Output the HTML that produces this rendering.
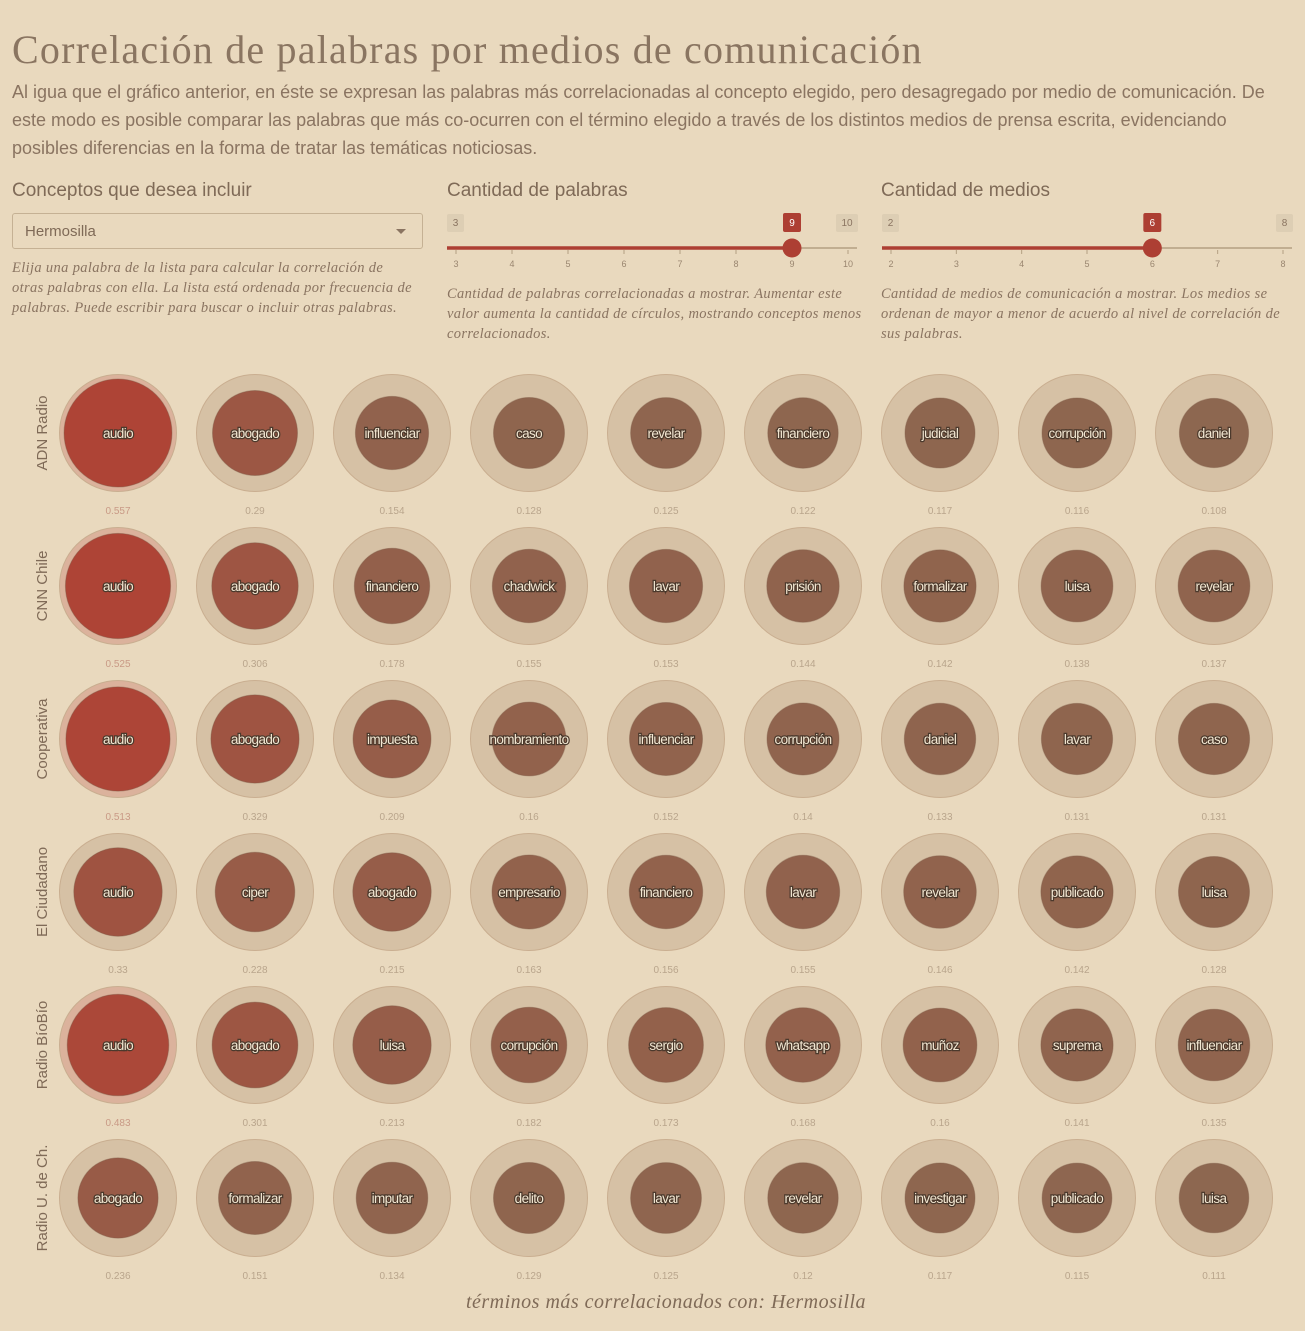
<!DOCTYPE html>
<html><head><meta charset="utf-8"><style>
body{margin:0;width:1305px;height:1331px;background:#e9d9be;overflow:hidden;font-family:"Liberation Sans",sans-serif;color:#8a7461}
h1{position:absolute;left:12px;top:26px;margin:0;font-family:"Liberation Serif",serif;font-weight:normal;font-size:40px;color:#8a7561;letter-spacing:1.2px}
.p{position:absolute;left:12px;top:78px;width:1285px;font-size:18px;line-height:28px;color:#8a7461}
.lab{position:absolute;font-size:19px;color:#7f6a57}
.help{position:absolute;font-family:"Liberation Serif",serif;font-style:italic;font-size:14.5px;line-height:20px;color:#8a7461;letter-spacing:0.35px}
.sel{position:absolute;left:12px;top:213px;width:411px;height:36px;border:1px solid #c5b194;border-radius:3px;box-sizing:border-box;font-size:15px;line-height:35px;padding-left:12px;color:#7f6a57}
.sel:after{content:"";position:absolute;right:16px;top:15px;border:5px solid transparent;border-top:5px solid #8a7461}
</style></head><body>
<h1>Correlación de palabras por medios de comunicación</h1>
<div class="p">Al igua que el gráfico anterior, en éste se expresan las palabras más correlacionadas al concepto elegido, pero desagregado por medio de comunicación. De este modo es posible comparar las palabras que más co-ocurren con el término elegido a través de los distintos medios de prensa escrita, evidenciando posibles diferencias en la forma de tratar las temáticas noticiosas.</div>
<div class="lab" style="left:12px;top:180px">Conceptos que desea incluir</div>
<div class="lab" style="left:447px;top:180px">Cantidad de palabras</div>
<div class="lab" style="left:881px;top:180px">Cantidad de medios</div>
<div class="sel">Hermosilla</div>
<div class="help" style="left:12px;top:258px;width:405px">Elija una palabra de la lista para calcular la correlación de otras palabras con ella. La lista está ordenada por frecuencia de palabras. Puede escribir para buscar o incluir otras palabras.</div>
<div class="help" style="left:447px;top:284px;width:415px">Cantidad de palabras correlacionadas a mostrar. Aumentar este valor aumenta la cantidad de círculos, mostrando conceptos menos correlacionados.</div>
<div class="help" style="left:881px;top:284px;width:405px">Cantidad de medios de comunicación a mostrar. Los medios se ordenan de mayor a menor de acuerdo al nivel de correlación de sus palabras.</div>
<svg id="s" width="1305" height="1331" style="position:absolute;left:0;top:0" font-family="Liberation Sans, sans-serif"></svg>
<script>
var s='';
function slider(l0,l1,t0,t1,min,max,val){
 var w=t1-t0,px=function(v){return t0+(v-min)/(max-min)*w;};
 var vx=px(val);
 s+='<line x1="'+l0+'" y1="248" x2="'+l1+'" y2="248" stroke="#b4a082" stroke-width="1.5"/>';
 s+='<line x1="'+l0+'" y1="248" x2="'+vx+'" y2="248" stroke="#ad3f33" stroke-width="3.5"/>';
 for(var v=min;v<=max;v++){var x=px(v);s+='<line x1="'+x+'" y1="250" x2="'+x+'" y2="254" stroke="#b4a082"/><text x="'+x+'" y="267" font-size="9" fill="#9a8670" text-anchor="middle">'+v+'</text>';}
 s+='<rect x="'+(l0)+'" y="214" width="17" height="18" rx="2" fill="#ddceb4"/><text x="'+(l0+8.5)+'" y="226" font-size="10" fill="#8a7461" text-anchor="middle">'+min+'</text>';
 var mw=max>9?22:17;
 s+='<rect x="'+(l1-mw+1)+'" y="214" width="'+mw+'" height="18" rx="2" fill="#ddceb4"/><text x="'+(l1-mw/2+1)+'" y="226" font-size="10" fill="#8a7461" text-anchor="middle">'+max+'</text>';
 s+='<rect x="'+(vx-9)+'" y="213" width="18" height="19" rx="2" fill="#ad3f33"/><text x="'+vx+'" y="226" font-size="10" fill="#fff" text-anchor="middle">'+val+'</text>';
 s+='<circle cx="'+vx+'" cy="248" r="9.5" fill="#ad3f33"/>';
}
slider(447,857,456,848,3,10,9);
slider(882,1292,891,1283,2,8,6);
var rows=[
["ADN Radio",[["audio",.557],["abogado",.29],["influenciar",.154],["caso",.128],["revelar",.125],["financiero",.122],["judicial",.117],["corrupción",.116],["daniel",.108]]],
["CNN Chile",[["audio",.525],["abogado",.306],["financiero",.178],["chadwick",.155],["lavar",.153],["prisión",.144],["formalizar",.142],["luisa",.138],["revelar",.137]]],
["Cooperativa",[["audio",.513],["abogado",.329],["impuesta",.209],["nombramiento",.16],["influenciar",.152],["corrupción",.14],["daniel",.133],["lavar",.131],["caso",.131]]],
["El Ciudadano",[["audio",.33],["ciper",.228],["abogado",.215],["empresario",.163],["financiero",.156],["lavar",.155],["revelar",.146],["publicado",.142],["luisa",.128]]],
["Radio BíoBío",[["audio",.483],["abogado",.301],["luisa",.213],["corrupción",.182],["sergio",.173],["whatsapp",.168],["muñoz",.16],["suprema",.141],["influenciar",.135]]],
["Radio U. de Ch.",[["abogado",.236],["formalizar",.151],["imputar",.134],["delito",.129],["lavar",.125],["revelar",.12],["investigar",.117],["publicado",.115],["luisa",.111]]]];
function mix(a,b,t){var r='#';for(var i=0;i<3;i++){var c=Math.round(a[i]+(b[i]-a[i])*t);r+=('0'+c.toString(16)).slice(-2);}return r;}
rows.forEach(function(r,ri){
 var cy=433+ri*153;
 s+='<text transform="translate(47,'+cy+') rotate(-90)" font-size="15" fill="#7f6a57" text-anchor="middle">'+r[0]+'</text>';
 r[1].forEach(function(d,ci){
  var cx=118+ci*137,v=d[1],ir=30+43*v;
  var t=Math.max(0,Math.min(1,(v-0.11)/0.42));
  var fill=mix([0x8d,0x67,0x50],[0xae,0x44,0x36],Math.pow(t,0.9));
  var ring=v>0.45?'#dbb29c':'#d6c1a5';
  s+='<circle cx="'+cx+'" cy="'+cy+'" r="58.5" fill="'+ring+'" stroke="#c9ae90" stroke-width="1"/>';
  s+='<circle cx="'+cx+'" cy="'+cy+'" r="'+ir.toFixed(1)+'" fill="'+fill+'" stroke="#7d5a45" stroke-opacity="0.4"/>';
  s+='<text x="'+cx+'" y="'+(cy+5)+'" font-size="13.5" text-anchor="middle" fill="#f3e7d2" stroke="#4b392c" stroke-width="2.5" paint-order="stroke" letter-spacing="-0.6">'+d[0]+'</text>';
  s+='<text x="'+cx+'" y="'+(cy+81)+'" font-size="10" text-anchor="middle" fill="'+(ci==0&&v>0.45?'#c99a86':'#b9a58c')+'">'+v+'</text>';
 });
});
s+='<text x="666" y="1308" font-family="Liberation Serif, serif" font-style="italic" font-size="20" letter-spacing="0.5" fill="#7f6a57" text-anchor="middle">términos más correlacionados con: Hermosilla</text>';
document.getElementById('s').innerHTML=s;
</script>
</body></html>
